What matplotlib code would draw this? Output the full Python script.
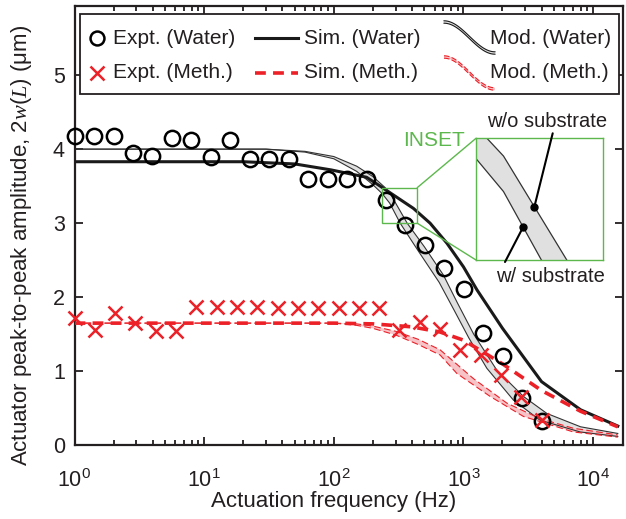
import numpy as np
import matplotlib
matplotlib.use("Agg")
import matplotlib.pyplot as plt
from matplotlib.patches import Rectangle, ConnectionPatch, Polygon
from matplotlib.lines import Line2D
from matplotlib.ticker import NullLocator, FixedLocator

plt.rcParams.update({
    "font.family": ["Liberation Sans", "DejaVu Sans"],
    "mathtext.fontset": "custom",
    "mathtext.rm": "Liberation Sans",
    "mathtext.it": "Liberation Serif:italic",
    "mathtext.bf": "Liberation Sans:bold",
})

TEXT = "#231f20"
RED = "#ec2027"
PINK = "#f7c3c7"
GRAY = "#e0e0e0"
GREEN = "#5cb84c"

# experiments (water)
freq_water = [1.0, 1.41, 2.0, 2.82, 3.99, 5.64, 7.97, 11.3, 15.9, 22.5, 31.8, 44.9,
              63.4, 89.6, 127, 179, 253, 357, 505, 713, 1008, 1424, 2012, 2843, 4000]
amp_water = [4.18, 4.18, 4.18, 3.95, 3.91, 4.15, 4.12, 3.89, 4.12, 3.87, 3.87, 3.87,
             3.59, 3.59, 3.59, 3.59, 3.31, 2.98, 2.71, 2.40, 2.11, 1.51, 1.20, 0.64, 0.33]

# experiments (methanol)
freq_meth = [1.0, 1.43, 2.06, 2.95, 4.23, 6.07, 8.70, 12.5, 17.9, 25.7, 36.8, 52.8,
             75.7, 109, 156, 223, 320, 459, 659, 945, 1355, 1943, 2788, 4000]
amp_meth = [1.72, 1.56, 1.79, 1.65, 1.55, 1.55, 1.87, 1.87, 1.87, 1.87, 1.86, 1.86,
            1.86, 1.86, 1.86, 1.86, 1.56, 1.66, 1.57, 1.29, 1.22, 0.95, 0.65, 0.34]

# simulations
sim_w_freq = [1, 20, 50, 95, 179, 228, 411, 553, 745, 1000, 1270, 2000, 4000, 8000, 15500]
sim_w_amp = [3.83, 3.83, 3.80, 3.72, 3.62, 3.50, 3.20, 3.00, 2.73, 2.41, 2.10, 1.58, 0.86, 0.48, 0.26]
sim_m_freq = [1, 100, 200, 400, 660, 1000, 2000, 4000, 8000, 15500]
sim_m_amp = [1.65, 1.65, 1.64, 1.60, 1.53, 1.42, 1.10, 0.74, 0.46, 0.25]

# model band (water): without / with substrate
mod_w_hi_freq = [1, 30, 60, 100, 150, 200, 249, 270, 368, 500, 700, 900, 1200, 1800, 2900, 4400, 8000, 15500]
mod_w_hi_amp = [4.0, 4.0, 3.97, 3.90, 3.77, 3.63, 3.48, 3.41, 3.00, 2.68, 2.30, 1.92, 1.50, 1.02, 0.66, 0.43, 0.25, 0.16]
mod_w_lo_freq = [1, 30, 60, 100, 150, 200, 236, 270, 325, 450, 650, 850, 1100, 1515, 2430, 3890, 7950, 15500]
mod_w_lo_amp = [4.0, 4.0, 3.96, 3.87, 3.70, 3.52, 3.40, 3.27, 3.00, 2.62, 2.20, 1.82, 1.45, 1.04, 0.61, 0.34, 0.18, 0.12]

# model band (methanol)
mod_m_hi_freq = [1, 100, 150, 200, 300, 450, 660, 1195, 2160, 3900, 7050, 15500]
mod_m_hi_amp = [1.65, 1.65, 1.64, 1.61, 1.54, 1.43, 1.29, 0.90, 0.57, 0.36, 0.23, 0.14]
mod_m_lo_freq = [1, 100, 150, 200, 300, 450, 660, 890, 1607, 2900, 7050, 15500]
mod_m_lo_amp = [1.65, 1.65, 1.62, 1.58, 1.49, 1.36, 1.22, 0.97, 0.66, 0.39, 0.18, 0.11]

inset_xlim = (236, 440)
inset_ylim = (3.0, 3.48)

W, H = 626, 519


def fx(x):
    return x / W


def fy(y):
    return 1 - y / H


def draw_band(a, fh, yh, fl, yl, fill, edge, ls, lw):
    xs = np.concatenate([fh, fl[::-1]])
    ys = np.concatenate([yh, yl[::-1]])
    a.add_patch(Polygon(np.column_stack([xs, ys]), closed=True, facecolor=fill,
                        edgecolor="none", zorder=1))
    a.plot(fh, yh, color=edge, lw=lw, ls=ls, zorder=2)
    a.plot(fl, yl, color=edge, lw=lw, ls=ls, zorder=2)


fig = plt.figure(figsize=(6.26, 5.19), dpi=100)
ax = fig.add_axes([fx(74.5), fy(445.3), (623 - 74.5) / W, (445.3 - 5.5) / H])
ax.set_xscale("log")
ax.set_xlim(1, 1.7e4)
ax.set_ylim(0, 5.94)

draw_band(ax, np.array(mod_w_hi_freq, float), np.array(mod_w_hi_amp), np.array(mod_w_lo_freq, float),
          np.array(mod_w_lo_amp), GRAY, "#333333", "-", 0.8)
draw_band(ax, np.array(mod_m_hi_freq, float), np.array(mod_m_hi_amp), np.array(mod_m_lo_freq, float),
          np.array(mod_m_lo_amp), PINK, RED, (0, (6, 3)), 0.8)

ax.plot(sim_w_freq, sim_w_amp, color="#1a1a1a", lw=2.2, zorder=3)
ax.plot(sim_m_freq, sim_m_amp, color=RED, lw=2.6, ls=(0, (3, 2)), zorder=3)
ax.plot(freq_water, amp_water, ls="none", marker="o", ms=11, mfc="none", mec="black",
        mew=1.8, zorder=5, clip_on=False)
ax.plot(freq_meth, amp_meth, ls="none", marker="x", ms=10, mec=RED, mew=1.8, zorder=5,
        clip_on=False)

ax.add_patch(Rectangle((inset_xlim[0], inset_ylim[0]), inset_xlim[1] - inset_xlim[0],
                       inset_ylim[1] - inset_ylim[0], fill=False, edgecolor=GREEN, lw=1, zorder=6))

ax.yaxis.set_major_locator(FixedLocator([0, 1, 2, 3, 4, 5]))
ax.yaxis.set_minor_locator(NullLocator())
ax.tick_params(which="both", direction="in", top=True, right=True, width=1.3, colors=TEXT)
ax.tick_params(which="major", length=6)
ax.tick_params(which="minor", length=3.5)
ax.tick_params(axis="x", which="major", labelsize=15.5, pad=17)
ax.tick_params(axis="y", which="major", labelsize=15.5, pad=7)
for sp in ax.spines.values():
    sp.set_linewidth(1.6)
    sp.set_color(TEXT)

fig.text(fx(334), fy(501), "Actuation frequency (Hz)", ha="center", va="center",
         fontsize=16, color=TEXT)
fig.text(fx(22), fy(245), r"Actuator peak-to-peak amplitude, 2$\mathit{w}(\mathit{L})$ ($\mathrm{\mu}$m)",
         rotation=90, ha="center", va="center", fontsize=16, color=TEXT)

# inset
axi = fig.add_axes([fx(476), fy(260), 127.3 / W, 121.7 / H])
axi.set_xscale("log")
draw_band(axi, np.array(mod_w_hi_freq, float), np.array(mod_w_hi_amp), np.array(mod_w_lo_freq, float),
          np.array(mod_w_lo_amp), GRAY, "#333333", "-", 0.9)
axi.set_xlim(*inset_xlim)
axi.set_ylim(*inset_ylim)
axi.tick_params(which="both", bottom=False, left=False, labelbottom=False, labelleft=False)
for sp in axi.spines.values():
    sp.set_color(GREEN)
    sp.set_linewidth(1)

for ya, yb in [(1, inset_ylim[1]), (0, inset_ylim[0])]:
    con = ConnectionPatch(xyA=(0, ya), coordsA=axi.transAxes, xyB=(inset_xlim[1], yb),
                          coordsB=ax.transData, color=GREEN, lw=1)
    fig.add_artist(con)

fig.text(fx(434), fy(140), "INSET", color=GREEN, fontsize=15, ha="center", va="center")

lf = np.log10(np.array(mod_w_hi_freq, float))
dot_hi_y = 3.21
dot_hi_f = 10 ** np.interp(dot_hi_y, mod_w_hi_amp[::-1], lf[::-1])
lf2 = np.log10(np.array(mod_w_lo_freq, float))
dot_lo_y = 3.13
dot_lo_f = 10 ** np.interp(dot_lo_y, mod_w_lo_amp[::-1], lf2[::-1])
for (df, dy), (tx, ty) in [((dot_hi_f, dot_hi_y), (552.7, 133.3)),
                           ((dot_lo_f, dot_lo_y), (505, 262))]:
    axi.plot([df], [dy], marker="o", ms=5, color="black", zorder=5)
    axi.annotate("", xy=(df, dy), xycoords="data", xytext=(fx(tx), fy(ty)),
                 textcoords="figure fraction",
                 arrowprops=dict(arrowstyle="-", lw=1.5, color="black", shrinkA=0, shrinkB=0))
fig.text(fx(546.7), fy(121.7), "w/o substrate", fontsize=14.5, color=TEXT, ha="center", va="center")
fig.text(fx(550), fy(276.7), "w/ substrate", fontsize=14.5, color=TEXT, ha="center", va="center")

# legend, drawn by hand
fig.add_artist(Rectangle((fx(80), fy(94)), (619 - 80) / W, (94 - 14) / H, transform=fig.transFigure,
                         facecolor="white", edgecolor=TEXT, lw=1.3, zorder=10))
rows = [38, 73]
leg_fs = 15
fig.add_artist(Line2D([fx(97)], [fy(rows[0])], marker="o", ms=10, mfc="none", mec="black", mew=1.8,
                      transform=fig.transFigure, zorder=11))
fig.add_artist(Line2D([fx(97)], [fy(rows[1])], marker="x", ms=10, mec=RED, mew=1.8,
                      transform=fig.transFigure, zorder=11))
fig.add_artist(Line2D([fx(255), fx(298)], [fy(rows[0])] * 2, color="#1a1a1a", lw=2.2,
                      transform=fig.transFigure, zorder=11))
fig.add_artist(Line2D([fx(255), fx(298)], [fy(rows[1])] * 2, color=RED, lw=2.6, ls=(0, (3, 2)),
                      transform=fig.transFigure, zorder=11))

t = np.linspace(0, 1, 40)
for (y0, y1), fill, edge, ls in [((22, 53), GRAY, "#1a1a1a", "-"), ((57, 89), PINK, RED, (0, (5, 2)))]:
    xs = 444 + 51 * t
    ys = y0 + (y1 - y0) * (0.5 - 0.5 * np.cos(np.pi * t))
    top = ys - 1.2
    bot = ys + 1.2
    poly = np.column_stack([np.concatenate([xs, xs[::-1]]), np.concatenate([top, bot[::-1]])])
    fig.add_artist(Polygon(np.column_stack([fx(poly[:, 0]), fy(poly[:, 1])]),
                           transform=fig.transFigure, facecolor=fill, edgecolor="none", zorder=11))
    for yy in (top, bot):
        fig.add_artist(Line2D(fx(xs), fy(yy), color=edge, lw=0.8, ls=ls,
                              transform=fig.transFigure, zorder=11))

labels = [(113, "Expt. (Water)", "Expt. (Meth.)"),
          (304, "Sim. (Water)", "Sim. (Meth.)"),
          (490, "Mod. (Water)", "Mod. (Meth.)")]
for x, l1, l2 in labels:
    fig.text(fx(x), fy(rows[0]), l1, fontsize=leg_fs, color=TEXT, va="center", zorder=12)
    fig.text(fx(x), fy(rows[1]), l2, fontsize=leg_fs, color=TEXT, va="center", zorder=12)

fig.savefig("out.png", dpi=100)
